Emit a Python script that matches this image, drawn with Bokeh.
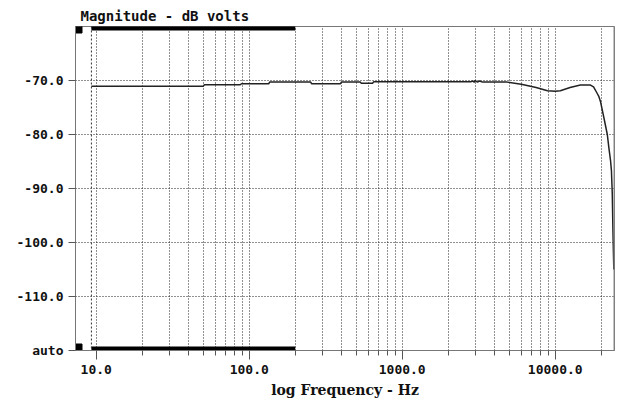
from bokeh.plotting import figure
from bokeh.models import FixedTicker, CustomJSTickFormatter, Span, Range1d
from bokeh.embed import file_html
from bokeh.resources import INLINE

# ---- data ----
freq_hz = [9.3, 50, 51, 87, 89, 134, 136, 252, 256, 395, 400, 533, 540, 640, 650,
           2800, 2900, 2950, 3000, 3100, 3200, 3350, 3500, 4850, 6000, 7500, 8900,
           10000, 10800, 12500, 14600, 17000, 17800, 18900, 19300, 19800, 20800,
           21900, 22400, 23000, 23300, 23600, 23800, 24150]
mag_db = [-71.05, -71.05, -70.8, -70.8, -70.6, -70.6, -70.3, -70.3, -70.6, -70.6,
          -70.3, -70.3, -70.5, -70.5, -70.25,
          -70.25, -70.1, -70.35, -70.0, -70.3, -70.1, -70.3, -70.3, -70.3, -70.7,
          -71.3, -71.9, -72.0, -71.9, -71.3, -70.85, -70.85, -71.2, -72.5, -73.0,
          -74.0, -76.9, -80.0, -82.4, -84.9, -86.7, -91.0, -97.0, -105.0]

x_major_ticks = [10, 100, 1000, 10000]
x_minor_ticks = [20, 30, 40, 50, 60, 70, 80, 90,
                 200, 300, 400, 500, 600, 700, 800, 900,
                 2000, 3000, 4000, 5000, 6000, 7000, 8000, 9000, 20000]
y_ticks = [-120, -110, -100, -90, -80, -70]
y_auto_tick = -120
x_lo, x_hi = 7.32, 24400
y_lo, y_hi = -120, -60
band_lo, band_hi = 9.3, 200   # highlighted cursor band

MONO = "DejaVu Sans Mono"

p = figure(width=616, height=400, x_axis_type="log",
           x_range=Range1d(x_lo, x_hi), y_range=Range1d(y_lo, y_hi),
           output_backend="svg", toolbar_location=None,
           min_border_left=75, min_border_right=2, min_border_top=26,
           min_border_bottom=49)

p.title.text = "Magnitude - dB volts"
p.title.text_font = MONO
p.title.text_font_size = "14px"
p.title.text_font_style = "bold"
p.title.text_color = "#111"
p.title.align = "left"
p.title.offset = 5
p.title.standoff = 6

p.outline_line_color = "#777"
p.background_fill_color = "white"
p.border_fill_color = "white"

# x axis
p.xaxis.ticker = FixedTicker(ticks=x_major_ticks, minor_ticks=x_minor_ticks)
p.xaxis.formatter = CustomJSTickFormatter(code="return tick.toFixed(1)")
p.xaxis.axis_label = "log Frequency - Hz"
p.xaxis.axis_label_text_font = "DejaVu Serif"
p.xaxis.axis_label_text_font_style = "bold"
p.xaxis.axis_label_text_font_size = "14px"
p.xaxis.axis_label_text_color = "#111"
p.xaxis.axis_label_standoff = 5
p.xaxis.major_tick_out = 9
p.xaxis.major_tick_in = 0
p.xaxis.minor_tick_out = 5
p.xaxis.minor_tick_in = 0
p.xaxis.major_label_standoff = 5
for ax in (p.xaxis, p.yaxis):
    ax.axis_line_color = "#777"
    ax.major_tick_line_color = "#555"
    ax.minor_tick_line_color = "#555"
    ax.major_label_text_font = MONO
    ax.major_label_text_font_style = "bold"
    ax.major_label_text_font_size = "13px"
    ax.major_label_text_color = "#111"

# y axis
p.yaxis.ticker = FixedTicker(ticks=y_ticks)
p.yaxis.formatter = CustomJSTickFormatter(
    code=f"return tick == {y_auto_tick} ? 'auto' : tick.toFixed(1)")
p.yaxis.major_tick_out = 7
p.yaxis.major_tick_in = 0
p.yaxis.minor_tick_line_color = None
p.yaxis.major_label_standoff = 5

# grids
p.xgrid.grid_line_color = "#222"
p.xgrid.grid_line_dash = "1 2"
p.xgrid.minor_grid_line_color = "#222"
p.xgrid.minor_grid_line_dash = "1 2"
p.ygrid.grid_line_color = "#222"
p.ygrid.grid_line_dash = "1 2"

# start-of-data marker and right border
p.add_layout(Span(location=band_lo, dimension="height", line_color="#333",
                  line_dash="2 2", line_width=1))
p.add_layout(Span(location=x_hi, dimension="height", line_color="#888",
                  line_width=2))

# cursor band bars along top and bottom
p.segment(x0=[band_lo, band_lo], x1=[band_hi, band_hi], y0=[y_hi, y_lo],
          y1=[y_hi, y_lo], line_color="black", line_width=8)
# corner squares
p.rect(x=[x_lo, x_lo], y=[y_hi, y_lo], width=13, height=13,
       width_units="screen", height_units="screen", color="black")

# curve
p.line(freq_hz, mag_db, line_color="#222", line_width=1.5)

open("out.html", "w").write(file_html(p, INLINE))
